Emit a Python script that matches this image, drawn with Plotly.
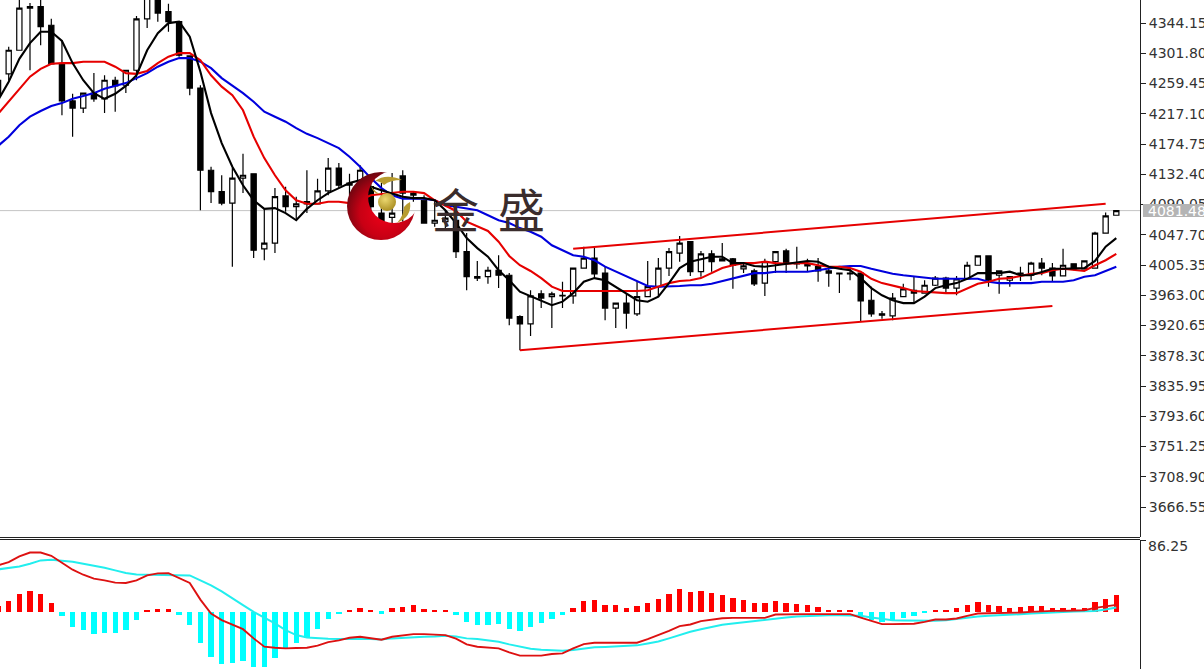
import base64
import plotly.graph_objects as go

bar_index = list(range(-1, 105))
opens = [4264,4273,4306,4367,4367,4341,4287,4235,4225,4246,4238,4264,4257,4278,4350,4388,4360,4346,4298,4253,4138,4108,4092,4127,4133,4028,4036,4102,4087,4091,4091,4109,4141,4117,4103,4115,4078,4072,4130,4103,4096,4064,4066,4068,4024,3989,3989,3998,3991,3933,3923,3965,3961,3963,3962,4001,4015,3994,3945,3952,3937,3961,3975,4001,4022,4038,3996,4021,4011,4014,4000,3997,3980,4010,4025,4007,4007,4003,3997,3994,3994,3994,3956,3937,3934,3961,3970,3966,3977,3987,3973,3986,4005,4018,3991,3984,3994,3991,4008,4001,3990,4007,4000,4001,4050,4075]
highs = [4274,4311,4383,4372,4383,4350,4320,4245,4246,4274,4271,4269,4278,4354,4388,4390,4371,4347,4299,4257,4143,4131,4141,4161,4133,4085,4113,4115,4101,4138,4126,4155,4148,4133,4145,4124,4120,4134,4138,4108,4103,4096,4082,4089,4050,4011,4003,4019,3994,3935,3970,3970,3968,3982,4001,4031,4029,4003,3952,3966,3982,4011,4015,4029,4046,4039,4025,4026,4036,4015,4008,4000,4014,4024,4028,4031,4014,4015,4004,3994,4000,3994,3975,3941,3966,3979,3989,3984,3990,3989,3990,4010,4018,4018,3998,3990,4003,4010,4015,4008,4028,4007,4011,4052,4079,4082]
lows = [4241,4264,4306,4278,4313,4287,4215,4185,4218,4234,4218,4220,4246,4264,4337,4346,4332,4297,4243,4082,4092,4089,4003,4106,4015,4012,4022,4080,4068,4078,4091,4103,4113,4103,4099,4080,4061,4064,4066,4094,4064,4059,4054,4015,3970,3983,3979,3973,3921,3886,3906,3945,3917,3945,3951,4001,3986,3928,3917,3916,3934,3961,3961,3990,4010,3990,3989,3996,4011,3972,3994,3976,3962,3994,3994,4000,3997,3982,3975,3966,3984,3926,3933,3930,3928,3961,3952,3966,3976,3966,3963,3986,4005,3975,3965,3975,3983,3984,3991,3983,3990,3998,4000,4001,4050,4075]
closes = [4243,4306,4365,4365,4339,4287,4235,4225,4246,4238,4264,4256,4278,4350,4381,4358,4346,4299,4253,4138,4108,4092,4127,4131,4026,4036,4101,4087,4091,4094,4109,4141,4117,4120,4138,4087,4066,4078,4106,4106,4064,4068,4071,4024,3989,3987,3998,3991,3931,3923,3962,3959,3965,3962,4001,4015,3993,3945,3952,3938,3961,3975,4001,4024,4036,3996,4021,4010,4014,4005,4004,3979,4010,4024,4008,4008,4004,3997,3994,3993,3993,3955,3937,3935,3959,3972,3966,3977,3987,3973,3986,4005,4018,3984,3997,3989,3993,4008,4001,3990,4005,4000,4011,4050,4074,4081.48]

ma_fast = [4236,4262,4294,4316,4332,4332,4319,4288,4264,4246,4238,4245,4256,4271,4306,4330,4344,4346,4325,4276,4218,4176,4143,4117,4096,4084,4085,4078,4068,4084,4096,4106,4113,4120,4124,4115,4110,4106,4101,4099,4099,4096,4082,4064,4043,4029,4017,3998,3984,3968,3962,3955,3949,3954,3966,3982,3987,3984,3975,3966,3956,3954,3961,3980,4001,4010,4014,4017,4017,4008,4008,4004,4003,4005,4007,4010,4011,4010,4003,4000,3998,3987,3973,3963,3956,3952,3952,3961,3973,3977,3980,3986,3994,3994,3994,3996,3991,3991,3996,4000,4000,4001,4001,4011,4031,4043]
ma_mid = [4217,4234,4252,4269,4280,4287,4288,4288,4290,4290,4290,4283,4274,4273,4277,4288,4297,4302,4302,4292,4271,4255,4243,4222,4185,4155,4131,4110,4096,4091,4091,4094,4094,4092,4096,4103,4105,4106,4108,4108,4106,4096,4089,4081,4066,4060,4053,4038,4018,4005,3997,3987,3975,3969,3969,3969,3969,3968,3968,3969,3969,3970,3975,3980,3983,3984,3987,3994,4001,4005,4008,4008,4010,4008,4007,4008,4008,4005,4003,4003,4001,3996,3986,3980,3977,3973,3969,3968,3966,3966,3966,3972,3979,3982,3986,3987,3990,3993,3994,3998,4000,3998,3997,4005,4012,4021]
ma_slow = [4172,4185,4201,4213,4221,4228,4232,4238,4242,4246,4252,4256,4260,4267,4274,4283,4290,4295,4295,4290,4281,4267,4257,4246,4234,4220,4213,4206,4197,4189,4183,4176,4169,4157,4143,4127,4113,4103,4098,4098,4098,4096,4089,4087,4085,4082,4075,4068,4064,4057,4052,4045,4033,4026,4019,4017,4012,4003,3996,3989,3982,3976,3975,3975,3976,3977,3977,3979,3983,3986,3990,3994,3994,3996,3996,3996,3996,3998,4001,4003,4004,4004,4000,3996,3993,3991,3989,3987,3986,3986,3986,3987,3986,3982,3980,3980,3980,3980,3982,3982,3982,3984,3989,3991,3997,4003]

macd_hist = [7.3,12.5,21.0,24.6,21.8,10.1,-5.6,-18.5,-22.6,-27.4,-25.8,-25.8,-22.6,-10.5,0.8,3.2,2.8,-4.0,-16.1,-37.9,-54.8,-63.7,-62.9,-59.6,-66.9,-66.9,-56.0,-45.9,-37.9,-30.6,-21.0,-9.3,-3.2,0.8,4.0,1.2,-2.4,4.4,5.2,7.7,3.2,1.2,1.2,-4.0,-12.9,-16.5,-16.5,-15.3,-21.0,-23.8,-18.5,-13.7,-9.3,-4.4,4.0,12.5,14.5,8.1,7.7,4.0,6.4,10.5,15.7,21.8,27.0,23.8,25.0,22.6,20.6,16.9,14.5,10.5,10.5,12.5,10.5,8.9,7.7,5.2,2.4,1.2,0.8,-7.3,-9.7,-12.5,-9.7,-7.7,-5.6,-0.8,0.8,1.2,4.4,8.1,11.3,8.1,6.4,4.8,5.6,6.4,6.4,4.8,4.8,4.4,4.8,11.3,15.7,19.7]
macd_line = [56.0,60.0,66.9,71.7,71.7,67.7,59.2,50.8,44.7,39.9,37.9,35.1,34.7,37.9,43.9,46.3,46.7,41.1,34.7,14.5,-2.4,-10.5,-15.7,-21.4,-32.6,-42.7,-43.9,-44.7,-44.3,-43.9,-41.5,-37.1,-35.1,-31.8,-30.6,-32.2,-34.3,-30.6,-29.0,-27.4,-27.4,-27.8,-28.6,-33.0,-39.9,-42.7,-43.9,-44.7,-49.6,-53.6,-53.6,-53.6,-51.6,-50.8,-44.7,-39.5,-37.9,-37.9,-37.9,-37.9,-37.9,-33.4,-28.6,-23.4,-17.7,-15.7,-11.7,-10.1,-8.1,-7.7,-7.7,-7.7,-7.7,-3.6,-3.2,-3.2,-3.2,-3.2,-3.2,-3.2,-3.2,-7.3,-11.3,-15.3,-15.3,-15.3,-14.9,-12.5,-9.7,-9.7,-8.5,-5.2,-2.4,-2.0,-2.0,-1.6,-1.2,-0.4,0.4,0.8,0.8,1.2,1.6,4.4,6.4,8.1]
macd_signal = [51.2,52.8,54.8,58.0,62.1,62.9,62.1,60.5,58.0,56.0,53.2,50.0,46.7,45.1,44.7,44.7,44.3,44.3,43.9,37.9,31.8,24.6,15.7,7.7,-0.4,-7.3,-14.5,-22.6,-28.6,-31.4,-32.6,-33.0,-33.4,-33.0,-33.0,-33.4,-33.9,-32.6,-31.8,-30.6,-30.6,-30.2,-29.4,-30.2,-32.6,-33.4,-35.1,-36.7,-39.9,-42.7,-45.1,-46.3,-46.7,-47.6,-46.7,-45.1,-43.5,-43.1,-42.3,-41.5,-41.1,-38.7,-36.3,-32.6,-28.2,-24.6,-21.4,-18.5,-16.1,-14.5,-12.9,-11.3,-10.1,-8.5,-7.3,-6.0,-5.2,-4.8,-4.4,-4.4,-4.4,-5.2,-7.3,-8.9,-10.5,-10.9,-11.3,-11.3,-11.3,-10.5,-8.9,-7.3,-6.0,-5.2,-4.8,-4.4,-3.2,-2.4,-1.6,-0.8,-0.4,0.0,0.4,0.8,2.4,4.8]

price_ticks = [4344.15,4301.80,4259.45,4217.10,4174.75,4132.40,4090.05,4047.70,4005.35,3963.00,3920.65,3878.30,3835.95,3793.60,3751.25,3708.90,3666.55]
price_tick_text = [f"{v:.2f}" for v in price_ticks]
last_price = 4081.48
macd_top = 86.25

channel_upper_x = [53, 103]
channel_upper_y = [4028, 4091]
channel_lower_x = [48, 98]
channel_lower_y = [3886, 3948]

for name, arr in dict(o=opens, h=highs, l=lows, c=closes, f=ma_fast, m=ma_mid, s=ma_slow,
                      hist=macd_hist, line=macd_line, sig=macd_signal).items():
    assert len(arr) == len(bar_index), (name, len(arr))

W, H = 1204, 669
AXIS_X = 1140
FONT = "DejaVu Sans"
TXT = "#333333"

fig = go.Figure()
fig.add_trace(go.Candlestick(
    x=bar_index, open=opens, high=highs, low=lows, close=closes,
    increasing=dict(line=dict(color="black", width=1.2), fillcolor="white"),
    decreasing=dict(line=dict(color="black", width=1.2), fillcolor="black"),
    whiskerwidth=0, xaxis="x", yaxis="y", showlegend=False))
for arr, col, wd in [(ma_slow, "#0000dd", 2.1), (ma_mid, "#e60000", 2.1), (ma_fast, "#000000", 2.1)]:
    fig.add_trace(go.Scatter(x=bar_index, y=arr, mode="lines", line=dict(color=col, width=wd),
                             xaxis="x", yaxis="y", showlegend=False))
for xs, ys in [(channel_upper_x, channel_upper_y), (channel_lower_x, channel_lower_y)]:
    fig.add_trace(go.Scatter(x=xs, y=ys, mode="lines", line=dict(color="#e60000", width=2),
                             xaxis="x", yaxis="y", showlegend=False))
fig.add_trace(go.Bar(x=bar_index, y=macd_hist, width=0.5,
                     marker=dict(color=["#ff0000" if v >= 0 else "#00ffff" for v in macd_hist], line_width=0),
                     xaxis="x", yaxis="y2", showlegend=False))
fig.add_trace(go.Scatter(x=bar_index, y=macd_signal, mode="lines", line=dict(color="#22eeee", width=2),
                         xaxis="x", yaxis="y2", showlegend=False))
fig.add_trace(go.Scatter(x=bar_index, y=macd_line, mode="lines", line=dict(color="#dd1111", width=1.9),
                         xaxis="x", yaxis="y2", showlegend=False))

logo_svg = """<svg xmlns="http://www.w3.org/2000/svg" width="70" height="70" viewBox="0 0 70 70">
<defs>
<radialGradient id="r" cx="0.55" cy="0.6" r="0.6"><stop offset="0" stop-color="#f00018"/><stop offset="0.6" stop-color="#c80014"/><stop offset="1" stop-color="#6e0610"/></radialGradient>
<radialGradient id="g" cx="0.4" cy="0.35" r="0.7"><stop offset="0" stop-color="#ecd870"/><stop offset="1" stop-color="#a88c20"/></radialGradient>
<mask id="m"><rect width="70" height="70" fill="white"/><circle cx="48" cy="26" r="26" fill="black"/></mask>
</defs>
<circle cx="35" cy="35" r="34" fill="url(#r)" mask="url(#m)"/>
<circle cx="41" cy="31" r="9" fill="url(#g)"/>
<path d="M29 10 Q40 2 56 9 Q44 9 38 14 Q34 10 29 10Z" fill="#b89c30"/>
<path d="M64 31 Q66 46 51 52 Q58 44 58 36 Q60 33 64 31Z" fill="#b89c30"/>
<path d="M25 15 Q28 20 34 23 Q28 24 25 15Z" fill="#b89c30"/>
</svg>"""
logo_src = "data:image/svg+xml;base64," + base64.b64encode(logo_svg.encode()).decode()

px_x = lambda p: p / AXIS_X
px_y = lambda p: 1 - p / H

fig.update_layout(
    width=W, height=H, margin=dict(l=0, r=W - AXIS_X, t=0, b=0, pad=0, autoexpand=False),
    paper_bgcolor="white", plot_bgcolor="white", showlegend=False, bargap=0,
    xaxis=dict(domain=[0, 1], range=[(0 - 8.7) / 10.65, (AXIS_X - 8.7) / 10.65], visible=False,
               rangeslider=dict(visible=False), anchor="y", automargin=False),
    yaxis=dict(domain=[px_y(537), 1], range=[3624.55, 4376.35], side="right", anchor="x", automargin=False,
               tickmode="array", tickvals=price_ticks, ticktext=price_tick_text,
               ticks="outside", ticklen=5, tickwidth=1, tickcolor="#222222",
               showgrid=False, zeroline=False, showline=True, linecolor="#222222", linewidth=1,
               tickfont=dict(family=FONT, size=14, color=TXT)),
    yaxis2=dict(domain=[0, px_y(540)], range=[-69.8, 86.9], side="right", anchor="x", automargin=False,
                tickmode="array", tickvals=[macd_top], ticktext=[""],
                ticks="outside", ticklen=5, tickwidth=1, tickcolor="#222222",
                showgrid=False, zeroline=False, showline=True, linecolor="#222222", linewidth=1),
    shapes=[
        dict(type="line", xref="paper", yref="y", x0=0, x1=1, y0=last_price, y1=last_price,
             line=dict(color="#c4c4c4", width=1), layer="below"),
        dict(type="line", xref="paper", yref="paper", x0=0, x1=1, y0=px_y(537.5), y1=px_y(537.5),
             line=dict(color="#222222", width=1)),
        dict(type="line", xref="paper", yref="paper", x0=0, x1=1, y0=px_y(539.5), y1=px_y(539.5),
             line=dict(color="#222222", width=1)),
        dict(type="rect", xref="paper", yref="paper", x0=px_x(1143), x1=px_x(1206),
             y0=px_y(217), y1=px_y(204), fillcolor="#b4b4b4", line=dict(width=0)),
    ],
    images=[dict(source=logo_src, xref="paper", yref="paper", x=px_x(346), y=px_y(171),
                 sizex=70 / AXIS_X, sizey=70 / H, sizing="stretch",
                 xanchor="left", yanchor="top", layer="above")],
    annotations=[
        dict(text="4081.48", xref="paper", yref="paper", x=px_x(1146), y=px_y(210.5), xanchor="left",
             yanchor="middle", showarrow=False, font=dict(family=FONT, size=14, color="white")),
        dict(text="86.25", xref="paper", yref="paper", x=px_x(1146), y=px_y(545.5), xanchor="left",
             yanchor="middle", showarrow=False, font=dict(family=FONT, size=14, color=TXT)),
        dict(text="金", xref="paper", yref="paper", x=px_x(455), y=px_y(207), xanchor="center",
             yanchor="middle", showarrow=False, font=dict(family="Noto Sans CJK SC", size=47, color="#3a2c2c")),
        dict(text="盛", xref="paper", yref="paper", x=px_x(521), y=px_y(207), xanchor="center",
             yanchor="middle", showarrow=False, font=dict(family="Noto Sans CJK SC", size=47, color="#3a2c2c")),
    ],
)

fig.write_html("out.html", config=dict(displayModeBar=False),
               post_script="document.body.style.margin='0';document.body.style.overflow='hidden';")
